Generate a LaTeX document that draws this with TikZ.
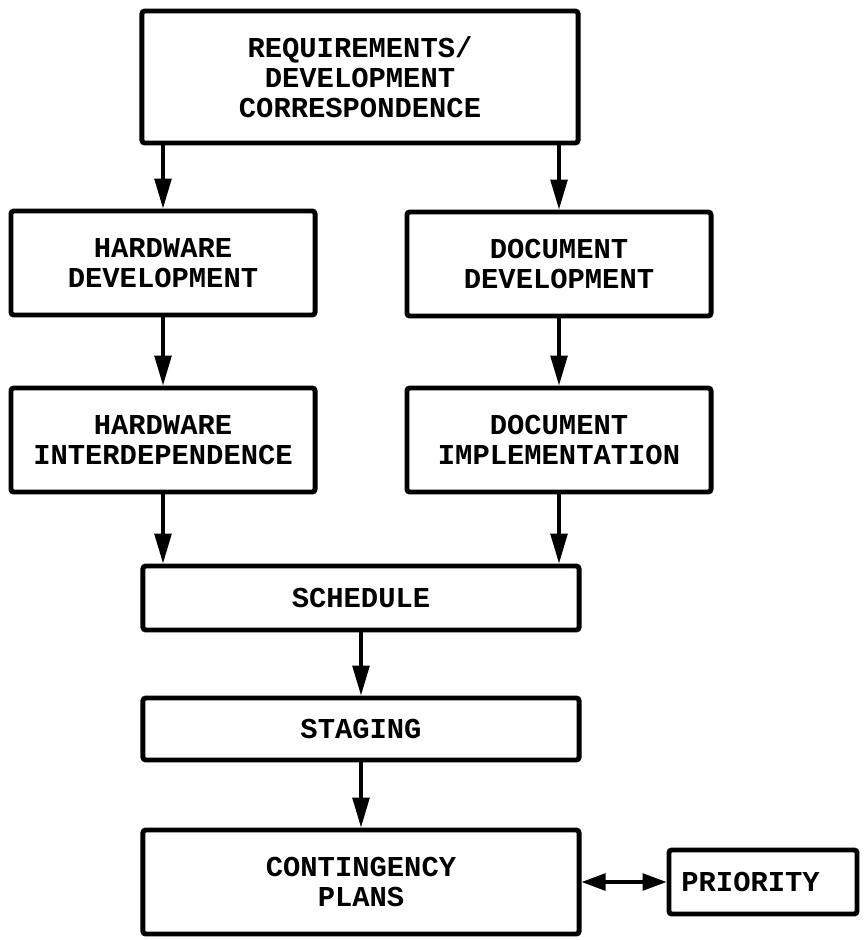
\documentclass[tikz,border=0pt]{standalone}
\usepackage{fontspec}
\setmonofont{Liberation Mono}
\usetikzlibrary{arrows.meta}

\tikzset{
  blk/.style={draw, line width=3.5pt, rounded corners=2pt, align=center, inner sep=0pt,
    font=\ttfamily\bfseries\fontsize{20.5}{21.5}\selectfont},
  flow/.style={line width=2.4pt, -{Triangle[length=0.75cm,width=0.42cm]}},
  both/.style={line width=2.4pt, {Triangle[length=0.6cm,width=0.42cm]}-{Triangle[length=0.6cm,width=0.42cm]}},
}

\begin{document}
\begin{tikzpicture}[x=0.025cm,y=-0.025cm]
  \useasboundingbox (0,0) rectangle (863,940);

  \node[blk, minimum width=10.9cm, minimum height=3.3cm] (req) at (360,77) {REQUIREMENTS/\\DEVELOPMENT\\CORRESPONDENCE};

  \node[blk, minimum width=7.6cm, minimum height=2.6cm] (hwdev) at (163,263) {HARDWARE\\DEVELOPMENT};
  \node[blk, minimum width=7.6cm, minimum height=2.6cm] (docdev) at (559,264) {DOCUMENT\\DEVELOPMENT};

  \node[blk, minimum width=7.6cm, minimum height=2.6cm] (hwint) at (163,440) {HARDWARE\\INTERDEPENDENCE};
  \node[blk, minimum width=7.6cm, minimum height=2.6cm] (docimp) at (559,440) {DOCUMENT\\IMPLEMENTATION};

  \node[blk, minimum width=10.9cm, minimum height=1.6cm] (sched) at (361,598) {SCHEDULE};
  \node[blk, minimum width=10.9cm, minimum height=1.55cm] (stag) at (361,729) {STAGING};
  \node[blk, minimum width=10.9cm, minimum height=2.6cm] (cont) at (361,882) {CONTINGENCY\\PLANS};

  \node[blk, text width=4.08cm, align=left, inner xsep=0.31cm, minimum height=1.6cm] (prio) at (763,882) {PRIORITY};

  %\draw[flow] (req) -- (hwdev);
  \draw[flow] (hwdev.north |- req.south) -- (hwdev.north);
  \draw[flow] (docdev.north |- req.south) -- (docdev.north);
  \draw[flow] (hwdev) -- (hwint);
  \draw[flow] (docdev) -- (docimp);
  \draw[flow] (hwint.south) -- (hwint.south |- sched.north);
  \draw[flow] (docimp.south) -- (docimp.south |- sched.north);
  \draw[flow] (sched) -- (stag);
  \draw[flow] (stag) -- (cont);
  \draw[both] (cont.east) -- (prio.west);

\end{tikzpicture}
\end{document}
